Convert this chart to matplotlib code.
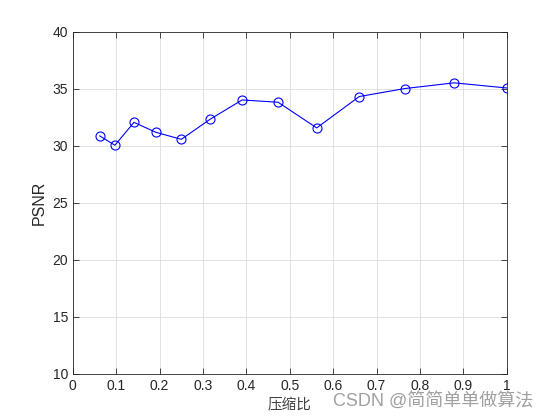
import numpy as np
import matplotlib
matplotlib.use('Agg')
import matplotlib.pyplot as plt

plt.rcParams['font.family'] = ['Liberation Sans', 'Noto Sans CJK SC', 'DejaVu Sans']

# compression ratio vs PSNR
ratio = [0.062, 0.097, 0.141, 0.191, 0.250, 0.316, 0.390, 0.473, 0.562, 0.660, 0.765, 0.879, 1.0]
psnr = [30.85, 30.03, 32.04, 31.17, 30.55, 32.3, 34.0, 33.8, 31.55, 34.3, 35.0, 35.5, 35.05]
xticks = np.arange(0, 1.01, 0.1)
yticks = np.arange(10, 41, 5)

fig = plt.figure(figsize=(5.6, 4.2), dpi=100)
ax = fig.add_axes([0.13, 0.11, 0.775, 0.815])
ax.plot(ratio, psnr, '-o', color=(0, 0, 1), lw=0.8, ms=6.5, mfc='none', mew=0.8)

ax.set_xlim(0, 1)
ax.set_ylim(10, 40)
ax.set_xticks(xticks)
ax.set_xticklabels(['0', '0.1', '0.2', '0.3', '0.4', '0.5', '0.6', '0.7', '0.8', '0.9', '1'])
ax.set_yticks(yticks)
ax.grid(True, color='#dcdcdc', lw=0.6)
ax.set_axisbelow(True)
ax.tick_params(direction='in', length=4, width=0.6, labelsize=10, colors='#262626', top=True, right=True,
               labeltop=False, labelright=False)
for s in ax.spines.values():
    s.set_linewidth(0.6)
    s.set_color('#262626')

ax.set_xlabel('压缩比', fontsize=10.5, family=['Noto Sans CJK SC'], color='#404040', labelpad=4)
ax.set_ylabel('PSNR', fontsize=11.5, color='#262626')

fig.text(0.595, 0.045, 'CSDN @简简单单做算法', fontsize=13, color='#a0a0a0',
         family=['Liberation Sans', 'Noto Sans CJK SC'], va='center')

fig.savefig('out.png', dpi=100)
